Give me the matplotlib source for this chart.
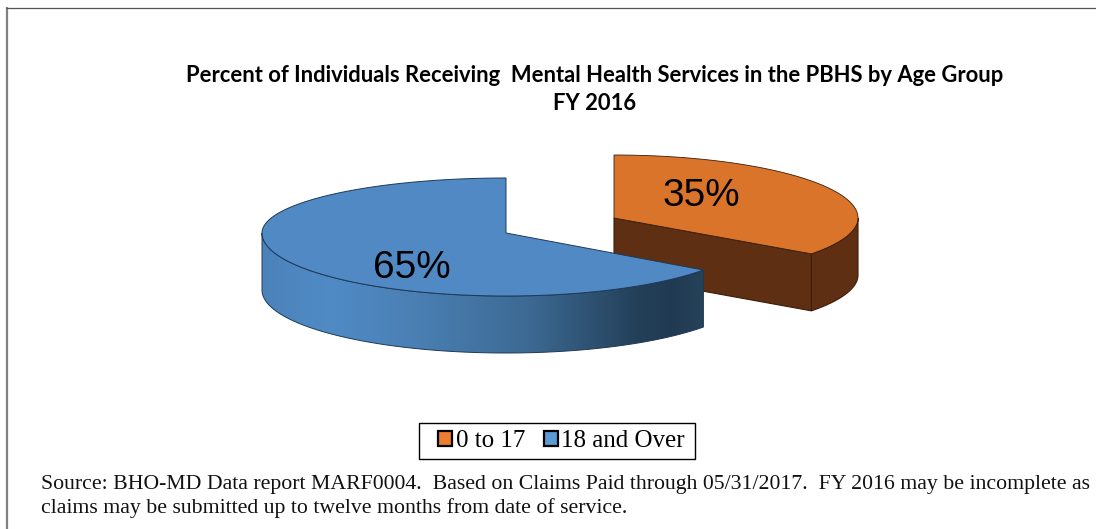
import numpy as np
import matplotlib
matplotlib.use("Agg")
import matplotlib.pyplot as plt
from matplotlib.patches import Polygon, Patch, Rectangle
from matplotlib.colors import LinearSegmentedColormap

categories = ["0 to 17", "18 and Over"]
values = [35, 65]
title_lines = ["Percent of Individuals Receiving  Mental Health Services in the PBHS by Age Group", "FY 2016"]
source_lines = ["Source: BHO-MD Data report MARF0004.  Based on Claims Paid through 05/31/2017.  FY 2016 may be incomplete as",
                "claims may be submitted up to twelve months from date of service."]

W, H = 1096, 529
fig = plt.figure(figsize=(W/100, H/100), dpi=100)
ax = fig.add_axes([0, 0, 1, 1])
ax.set_xlim(0, W); ax.set_ylim(H, 0); ax.axis("off")

A = 244; DEPTH = 57
fr = np.array(values) / sum(values) * 360
t_split = 90 - fr[0]  # clockwise from the top: first slice ends here


def pt(cx, cy, back, front, t):
    t = np.radians(np.asarray(t, float))
    s = np.sin(t)
    return np.column_stack([cx + A*np.cos(t), cy - np.where(s > 0, back, front)*s])


# orange slice (exploded)
oc = (614, 218, 63, 61)
t = np.linspace(90, t_split, 100)
top = pt(*oc, t)
apex = np.array([[oc[0], oc[1]]])
dn = np.array([0, DEPTH])
brown = "#5E2F12"; bedge = "#3A1D0B"
t2 = np.linspace(0, t_split, 40)
arc = pt(*oc, t2)
ax.add_patch(Polygon(np.vstack([arc, arc[::-1]+dn]), fc=brown, ec=bedge, lw=0.8, zorder=2))
c = top[-1:]
ax.add_patch(Polygon(np.vstack([apex, c, c+dn, apex+dn]), fc=brown, ec=bedge, lw=0.8, zorder=2))
ax.add_patch(Polygon(np.vstack([apex, top]), fc="#DB742B", ec=bedge, lw=0.6, zorder=3))

# blue slice
bc = (506, 233, 55, 63)
t = np.linspace(90, 90+fr[1], 300)
top = pt(*bc, t)
apex = np.array([[bc[0], bc[1]]])
t2 = np.linspace(180, 90+fr[1], 160)
arc = pt(*bc, t2)
wall = Polygon(np.vstack([arc, arc[::-1]+dn]), fc="none", ec="none", zorder=4)
ax.add_patch(wall)
cmap = LinearSegmentedColormap.from_list("side", [(0, "#4C82BA"), (0.15, "#508BC6"), (0.35, "#4A7FB3"),
                                                   (0.6, "#3D6A94"), (0.85, "#244059"), (0.93, "#203A52"), (1, "#264359")])
im = ax.imshow(np.linspace(0, 1, 256)[None, :], cmap=cmap, aspect="auto", zorder=4,
               extent=[arc[:, 0].min(), arc[:, 0].max(), 360, 230])
im.set_clip_path(wall)
ax.set_xlim(0, W); ax.set_ylim(H, 0)
ax.add_patch(Polygon(np.vstack([arc, arc[::-1]+dn]), fc="none", ec="#1F3A55", lw=0.7, zorder=5))
ax.add_patch(Polygon(np.vstack([apex, top]), fc="#5089C4", ec="#1D3A58", lw=0.7, zorder=6))

# labels
ax.text(701.5, 196, f"{values[0]}%", fontsize=27.9, family="Liberation Sans", ha="center", va="center", zorder=7, color="black")
ax.text(411.5, 268, f"{values[1]}%", fontsize=27.9, family="Liberation Sans", ha="center", va="center", zorder=7, color="black")

# frame
ax.plot([6.5, 6.5], [7, H], color="#808080", lw=1.6, zorder=1, solid_capstyle="butt")
ax.plot([6, W], [7.5, 7.5], color="#555555", lw=0.9, zorder=1, solid_capstyle="butt")

# title
ax.text(595, 75, title_lines[0], family="Lato", weight="bold", fontsize=15.85, ha="center", va="center", color="black")
ax.text(595, 103, title_lines[1], family="Lato", weight="bold", fontsize=15.85, ha="center", va="center", color="black")

# legend
ax.add_patch(Rectangle((419, 423), 276, 36, fc="white", ec="black", lw=1.0, zorder=1))
handles = [Patch(fc="#ED7D31", ec="black", lw=1.6), Patch(fc="#5B9BD5", ec="black", lw=1.6)]
leg = ax.legend(handles, categories, loc="center", bbox_to_anchor=(561.5/W, 1-441/H), ncol=2,
                prop={"family": "Liberation Serif", "size": 18}, frameon=False,
                handlelength=0.55, handleheight=0.55, handletextpad=0.15,
                columnspacing=0.75, borderpad=0, borderaxespad=0)

# source
ax.text(41, 484, source_lines[0], family="Liberation Serif", fontsize=15.7, ha="left", va="center", color="#111111")
ax.text(41, 508, source_lines[1], family="Liberation Serif", fontsize=15.7, ha="left", va="center", color="#111111")

fig.savefig("out.png", dpi=100)
